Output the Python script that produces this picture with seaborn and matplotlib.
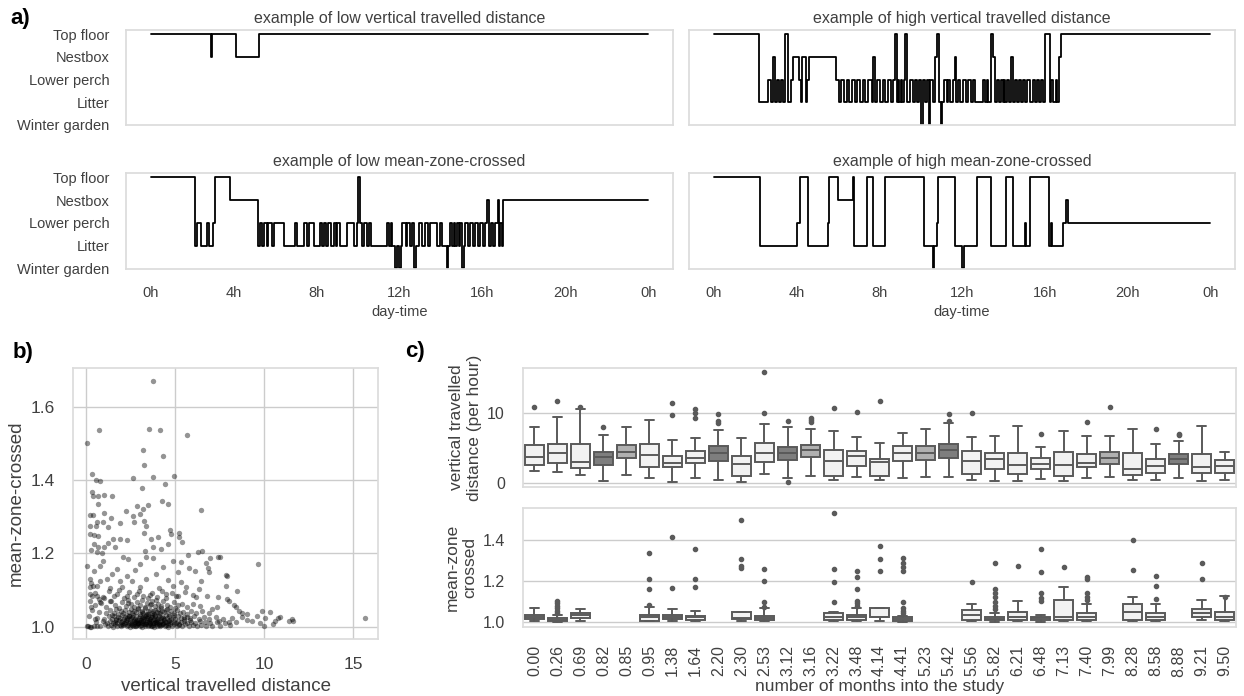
import numpy as np
import pandas as pd
import seaborn as sns
import matplotlib.pyplot as plt

sns.set_theme(style="whitegrid")
plt.rcParams['font.family'] = ['Liberation Sans', 'DejaVu Sans']
plt.rcParams['text.color'] = '#404040'
plt.rcParams['axes.labelcolor'] = '#404040'
plt.rcParams['xtick.color'] = '#404040'
plt.rcParams['ytick.color'] = '#404040'

# ---------------- data ----------------
zones = ["Winter garden", "Litter", "Lower perch", "Nestbox", "Top floor"]
hour_ticks = [0, 4, 8, 12, 16, 20, 24]
hour_labels = ["0h", "4h", "8h", "12h", "16h", "20h", "0h"]

# zone changes (hour, zone index) for the four example hens
lo_vtd = [(0.00, 4), (2.89, 3), (2.93, 4), (4.10, 3), (5.22, 4)]

hi_vtd = [(0.00, 4), (2.19, 1), (2.63, 2), (2.74, 1), (2.87, 3), (2.94, 1), (3.06, 2), (3.16, 1),
          (3.24, 2), (3.32, 1), (3.44, 4), (3.60, 1), (3.71, 2), (3.81, 3), (4.13, 2), (4.19, 1),
          (4.26, 3), (4.45, 1), (4.52, 2), (4.58, 3), (5.90, 2), (6.03, 1), (6.16, 2), (6.29, 1),
          (6.42, 2), (6.55, 1), (6.68, 2), (6.81, 1), (6.94, 2), (7.06, 1), (7.19, 2), (7.32, 1),
          (7.47, 2), (7.63, 1), (7.71, 3), (7.77, 1), (7.87, 2), (8.03, 1), (8.16, 2), (8.29, 1),
          (8.44, 2), (8.55, 1), (8.68, 2), (8.76, 4), (8.87, 1), (8.92, 2), (8.97, 1), (9.03, 2),
          (9.10, 1), (9.19, 2), (9.26, 4), (9.35, 1), (9.48, 2), (9.65, 1), (9.73, 2), (9.84, 1),
          (9.94, 2), (10.03, 0), (10.10, 2), (10.21, 1), (10.29, 2), (10.39, 0), (10.45, 2),
          (10.58, 1), (10.71, 3), (10.77, 4), (10.87, 1), (10.97, 0), (11.03, 1), (11.13, 2),
          (11.26, 1), (11.34, 2), (11.42, 1), (11.55, 2), (11.65, 3), (11.71, 1), (11.82, 2),
          (11.90, 1), (12.06, 2), (12.19, 1), (12.31, 2), (12.42, 1), (12.52, 2), (12.65, 1),
          (13.03, 2), (13.11, 1), (13.19, 2), (13.27, 1), (13.39, 4), (13.52, 3), (13.58, 1),
          (13.68, 2), (13.81, 1), (13.90, 2), (13.97, 1), (14.03, 2), (14.10, 1), (14.19, 2),
          (14.29, 1), (14.39, 3), (14.45, 1), (14.55, 2), (14.65, 1), (14.74, 2), (14.84, 1),
          (14.94, 2), (15.05, 1), (15.16, 2), (15.29, 1), (15.42, 2), (15.52, 1), (15.61, 2),
          (15.71, 1), (15.81, 2), (15.90, 1), (16.03, 4), (16.23, 1), (16.32, 2), (16.42, 1),
          (16.52, 2), (16.61, 1), (16.71, 3), (16.80, 4)]

lo_mzc = [(0.00, 4), (2.14, 1), (2.25, 2), (2.41, 1), (2.70, 2), (2.81, 1), (3.02, 2), (3.08, 4),
          (3.82, 3), (5.17, 1), (5.27, 2), (5.38, 1), (5.46, 2), (5.59, 1), (5.65, 2), (5.86, 1),
          (5.94, 2), (6.43, 1), (6.94, 2), (7.07, 1), (7.39, 2), (7.52, 1), (7.63, 2), (7.87, 1),
          (8.16, 2), (8.27, 1), (8.35, 2), (8.45, 1), (8.55, 2), (8.67, 1), (8.84, 2), (8.92, 1),
          (9.00, 2), (9.12, 1), (9.48, 2), (9.80, 1), (9.93, 2), (9.99, 4), (10.09, 2), (10.20, 1),
          (10.31, 2), (10.41, 1), (10.51, 2), (10.60, 1), (11.41, 2), (11.49, 1), (11.57, 2),
          (11.65, 1), (11.76, 0), (11.86, 1), (11.97, 0), (12.05, 1), (12.13, 2), (12.29, 1),
          (12.37, 2), (12.50, 1), (12.61, 2), (12.72, 0), (12.79, 1), (12.93, 2), (13.09, 1),
          (13.25, 2), (13.37, 1), (13.49, 2), (13.82, 1), (13.94, 2), (14.06, 1), (14.27, 0),
          (14.36, 1), (14.43, 2), (14.54, 1), (14.62, 2), (14.70, 1), (14.78, 2), (14.86, 1),
          (14.94, 2), (15.02, 0), (15.10, 1), (15.18, 2), (15.29, 1), (15.42, 2), (15.55, 1),
          (15.66, 2), (15.78, 1), (15.90, 2), (16.03, 1), (16.14, 2), (16.22, 3), (16.31, 1),
          (16.42, 2), (16.51, 1), (16.63, 2), (16.74, 3), (16.80, 1), (16.87, 2), (16.93, 1),
          (17.00, 3)]

hi_mzc = [(0.00, 4), (2.23, 1), (4.03, 2), (4.16, 4), (4.56, 1), (5.50, 2), (5.55, 4), (6.02, 3),
          (6.71, 4), (6.76, 1), (7.39, 4), (7.71, 1), (8.27, 4), (10.16, 1), (10.61, 0), (10.66, 1),
          (10.81, 2), (10.84, 4), (11.66, 1), (12.02, 0), (12.08, 1), (12.74, 4), (13.40, 1),
          (14.11, 4), (14.48, 1), (15.05, 2), (15.10, 1), (15.29, 4), (16.19, 1), (16.31, 2),
          (16.37, 1), (16.87, 2), (17.03, 3), (17.10, 2)]

# panel b: (vertical travelled distance, mean-zone-crossed) per hen-day
sparse_points = [
    (3.75, 1.671), (0.04, 1.500), (0.72, 1.536), (3.51, 1.539), (4.13, 1.535), (5.65, 1.523),
    (3.20, 1.482), (4.32, 1.466), (3.25, 1.441), (0.32, 1.416), (0.56, 1.400), (0.78, 1.396),
    (2.64, 1.405), (3.75, 1.407), (4.93, 1.410), (4.41, 1.389), (0.32, 1.368), (0.41, 1.357),
    (0.65, 1.357), (1.00, 1.359), (1.45, 1.355), (3.16, 1.377), (4.26, 1.344), (4.61, 1.335),
    (0.69, 1.335), (2.83, 1.330), (3.48, 1.333), (2.23, 1.315), (3.20, 1.321), (6.45, 1.319),
    (0.19, 1.305), (0.37, 1.305), (1.00, 1.309), (2.64, 1.303), (3.05, 1.307), (1.38, 1.295),
    (0.59, 1.285), (0.97, 1.285), (1.90, 1.282), (2.68, 1.285), (3.23, 1.287), (3.38, 1.275),
    (0.22, 1.275), (0.54, 1.275), (1.25, 1.271), (4.72, 1.264), (3.23, 1.255), (0.22, 1.253),
    (0.45, 1.250), (0.65, 1.248), (1.52, 1.239), (1.90, 1.239), (2.27, 1.235), (3.66, 1.239),
    (4.03, 1.245), (4.78, 1.253), (5.19, 1.255), (5.24, 1.244), (5.39, 1.232), (4.59, 1.225),
    (1.21, 1.228), (0.46, 1.225), (0.69, 1.216), (1.00, 1.216), (1.62, 1.216), (3.75, 1.216),
    (4.22, 1.212), (3.29, 1.207), (0.26, 1.209), (0.59, 1.203), (0.91, 1.201), (6.30, 1.203),
    (6.49, 1.205), (2.08, 1.189), (2.36, 1.185), (3.75, 1.187), (3.34, 1.189), (5.71, 1.195),
    (6.95, 1.186), (7.42, 1.189), (7.51, 1.189), (9.65, 1.171), (4.87, 1.180), (5.33, 1.175),
    (6.73, 1.173), (0.07, 1.166), (0.78, 1.166), (1.71, 1.157), (2.73, 1.155), (4.31, 1.162),
    (5.76, 1.160), (6.86, 1.160), (0.46, 1.151), (0.97, 1.180), (3.01, 1.171), (1.43, 1.144),
    (2.27, 1.139), (3.94, 1.144), (5.15, 1.148), (6.13, 1.151), (6.91, 1.148), (7.84, 1.141),
    (7.94, 1.139), (0.22, 1.130), (0.78, 1.125), (1.15, 1.130), (1.90, 1.124), (2.55, 1.125),
    (3.38, 1.130), (4.59, 1.127), (5.33, 1.121), (6.45, 1.125), (0.22, 1.107), (0.59, 1.112),
    (1.34, 1.105), (1.99, 1.109), (3.01, 1.107), (4.09, 1.105), (4.87, 1.112), (5.61, 1.107),
    (6.36, 1.103), (7.84, 1.112), (8.49, 1.096), (0.19, 1.089), (0.59, 1.085), (0.97, 1.082),
    (1.71, 1.089), (2.27, 1.085), (2.83, 1.089), (3.57, 1.086), (4.50, 1.089), (5.15, 1.085),
    (5.99, 1.087), (6.82, 1.085), (7.43, 1.080), (7.94, 1.075), (0.22, 1.071), (0.28, 1.055),
    (0.78, 1.066), (1.34, 1.069), (8.03, 1.071), (8.31, 1.060), (8.44, 1.055), (7.38, 1.053),
    (7.10, 1.048), (9.05, 1.035), (9.61, 1.030), (9.89, 1.044), (10.35, 1.039), (10.07, 1.024),
    (9.80, 1.009), (9.98, 1.003), (10.63, 1.016), (10.48, 1.007), (10.78, 1.024), (10.91, 1.027),
    (11.38, 1.016), (11.56, 1.021), (11.65, 1.016), (15.65, 1.025), (8.74, 1.027), (8.77, 1.036),
    (8.59, 1.044), (8.22, 1.024), (8.03, 1.012), (7.47, 1.016), (9.05, 1.018), (9.33, 1.016),
    (0.07, 1.003), (0.19, 1.000), (0.26, 1.000), (0.10, 1.002), (0.15, 1.030), (0.30, 1.085),
    (0.35, 1.045), (0.40, 1.110), (0.25, 1.120), (0.50, 1.020), (0.62, 1.003), (0.70, 1.075)]

dense_points = [
    (0.42, 1.003), (0.78, 1.001), (1.05, 1.006), (1.21, 1.002), (1.38, 1.004), (1.52, 1.000),
    (1.63, 1.007), (1.74, 1.002), (1.88, 1.005), (1.97, 1.001), (2.08, 1.004), (2.19, 1.008),
    (2.27, 1.002), (2.36, 1.005), (2.44, 1.000), (2.53, 1.006), (2.61, 1.003), (2.70, 1.007),
    (2.78, 1.001), (2.86, 1.004), (2.93, 1.008), (3.01, 1.002), (3.09, 1.005), (3.16, 1.000),
    (3.24, 1.006), (3.31, 1.003), (3.39, 1.007), (3.46, 1.001), (3.54, 1.004), (3.61, 1.008),
    (3.69, 1.002), (3.76, 1.005), (3.84, 1.000), (3.91, 1.006), (3.99, 1.003), (4.07, 1.007),
    (4.15, 1.001), (4.23, 1.004), (4.32, 1.008), (4.41, 1.002), (4.50, 1.005), (4.60, 1.000),
    (4.71, 1.006), (4.83, 1.003), (4.96, 1.007), (5.09, 1.001), (5.24, 1.004), (5.41, 1.002),
    (5.58, 1.006), (5.77, 1.001), (5.98, 1.004), (6.21, 1.002), (6.47, 1.005), (6.75, 1.001),
    (7.10, 1.003), (7.52, 1.002), (8.10, 1.004),
    (0.55, 1.012), (0.93, 1.015), (1.18, 1.010), (1.34, 1.016), (1.49, 1.011), (1.61, 1.014),
    (1.72, 1.009), (1.83, 1.017), (1.94, 1.012), (2.04, 1.015), (2.13, 1.010), (2.22, 1.013),
    (2.31, 1.017), (2.40, 1.011), (2.49, 1.014), (2.57, 1.009), (2.66, 1.016), (2.74, 1.012),
    (2.82, 1.015), (2.90, 1.010), (2.98, 1.018), (3.06, 1.013), (3.14, 1.011), (3.22, 1.016),
    (3.29, 1.009), (3.37, 1.014), (3.44, 1.017), (3.52, 1.012), (3.59, 1.010), (3.67, 1.015),
    (3.74, 1.018), (3.82, 1.011), (3.89, 1.014), (3.97, 1.009), (4.05, 1.016), (4.13, 1.012),
    (4.21, 1.015), (4.30, 1.010), (4.39, 1.017), (4.48, 1.013), (4.58, 1.011), (4.68, 1.016),
    (4.79, 1.012), (4.91, 1.014), (5.04, 1.010), (5.18, 1.015), (5.33, 1.012), (5.50, 1.016),
    (5.69, 1.011), (5.90, 1.014), (6.12, 1.010), (6.38, 1.015), (6.66, 1.012), (6.98, 1.009),
    (7.35, 1.013), (7.80, 1.011), (8.45, 1.014),
    (0.62, 1.025), (1.02, 1.021), (1.27, 1.028), (1.45, 1.022), (1.59, 1.030), (1.70, 1.019),
    (1.81, 1.026), (1.92, 1.023), (2.02, 1.031), (2.11, 1.020), (2.20, 1.027), (2.29, 1.024),
    (2.38, 1.029), (2.47, 1.021), (2.55, 1.026), (2.64, 1.032), (2.72, 1.022), (2.80, 1.028),
    (2.88, 1.019), (2.96, 1.025), (3.04, 1.030), (3.12, 1.023), (3.20, 1.027), (3.27, 1.020),
    (3.35, 1.031), (3.42, 1.024), (3.50, 1.028), (3.57, 1.021), (3.65, 1.026), (3.72, 1.032),
    (3.80, 1.022), (3.87, 1.029), (3.95, 1.019), (4.03, 1.025), (4.11, 1.030), (4.19, 1.023),
    (4.28, 1.027), (4.37, 1.021), (4.46, 1.031), (4.56, 1.024), (4.66, 1.028), (4.77, 1.020),
    (4.89, 1.026), (5.02, 1.022), (5.16, 1.029), (5.31, 1.024), (5.48, 1.020), (5.66, 1.027),
    (5.86, 1.023), (6.08, 1.028), (6.33, 1.021), (6.60, 1.026), (6.92, 1.022), (7.28, 1.027),
    (7.70, 1.020),
    (0.70, 1.040), (1.10, 1.036), (1.36, 1.045), (1.55, 1.038), (1.68, 1.048), (1.80, 1.034),
    (1.93, 1.042), (2.05, 1.037), (2.17, 1.046), (2.28, 1.033), (2.39, 1.041), (2.50, 1.049),
    (2.60, 1.036), (2.71, 1.044), (2.81, 1.039), (2.91, 1.047), (3.01, 1.035), (3.11, 1.043),
    (3.21, 1.038), (3.30, 1.050), (3.40, 1.034), (3.49, 1.042), (3.58, 1.046), (3.68, 1.037),
    (3.77, 1.044), (3.86, 1.033), (3.96, 1.041), (4.06, 1.048), (4.16, 1.036), (4.27, 1.043),
    (4.38, 1.039), (4.50, 1.046), (4.63, 1.035), (4.77, 1.042), (4.92, 1.038), (5.08, 1.045),
    (5.26, 1.036), (5.46, 1.041), (5.68, 1.034), (5.92, 1.043), (6.20, 1.037), (6.52, 1.044),
    (6.90, 1.036),
    (0.48, 1.058), (0.85, 1.064), (1.14, 1.055), (1.40, 1.070), (1.62, 1.060), (1.84, 1.052),
    (2.03, 1.066), (2.21, 1.057), (2.37, 1.072), (2.54, 1.061), (2.69, 1.054), (2.85, 1.068),
    (3.00, 1.059), (3.15, 1.074), (3.28, 1.053), (3.43, 1.065), (3.58, 1.058), (3.72, 1.071),
    (3.88, 1.056), (4.02, 1.063), (4.18, 1.052), (4.34, 1.069), (4.52, 1.060), (4.71, 1.055),
    (4.92, 1.066), (5.15, 1.058), (5.40, 1.063), (5.68, 1.054), (6.00, 1.061), (6.40, 1.057),
    (0.52, 1.092), (0.98, 1.078), (1.28, 1.096), (1.57, 1.083), (1.86, 1.099), (2.12, 1.079),
    (2.42, 1.094), (2.66, 1.081), (2.95, 1.097), (3.18, 1.085), (3.46, 1.077), (3.70, 1.093),
    (3.98, 1.082), (4.24, 1.098), (4.48, 1.079), (4.80, 1.091), (5.05, 1.084), (5.55, 1.095),
    (6.15, 1.080),
    (2.58, 1.004), (2.83, 1.011), (3.07, 1.019), (3.33, 1.007), (3.55, 1.015), (3.78, 1.010),
    (4.00, 1.021), (4.25, 1.006), (3.93, 1.013), (3.62, 1.003), (3.26, 1.023), (2.97, 1.009),
    (2.68, 1.017), (4.44, 1.014), (4.62, 1.004), (3.70, 1.027), (3.48, 1.035), (4.10, 1.038),
    (2.43, 1.029), (3.85, 1.046), (3.12, 1.040),
    (1.66, 1.021), (1.99, 1.008), (2.25, 1.018), (2.51, 1.024), (2.76, 1.003), (3.03, 1.014),
    (3.28, 1.029), (3.53, 1.020), (3.81, 1.034), (4.08, 1.004), (4.34, 1.025), (4.64, 1.019),
    (4.94, 1.031), (5.21, 1.008), (5.52, 1.027), (5.83, 1.017), (1.44, 1.033), (2.89, 1.052),
    (3.63, 1.061), (4.21, 1.057), (2.33, 1.064), (3.92, 1.073), (4.56, 1.047), (5.01, 1.051)]

# panel c: months into the study
months = ["0.00", "0.26", "0.69", "0.82", "0.85", "0.95", "1.38", "1.64", "2.20", "2.30", "2.53",
          "3.12", "3.16", "3.22", "3.48", "4.14", "4.41", "5.23", "5.42", "5.56", "5.82", "6.21",
          "6.48", "7.13", "7.40", "7.99", "8.28", "8.58", "8.88", "9.21", "9.50"]
shade = ["l", "l", "l", "d", "m", "l", "l", "l", "d", "l", "l", "d", "m", "l", "l", "l", "l",
         "m", "d", "l", "l", "l", "l", "l", "l", "m", "l", "l", "d", "l", "l"]

# vertical travelled distance: whisker low, q1, median, q3, whisker high, outliers
vtd_lo = [1.7, 1.5, 1.14, 0.29, 1.1, 0.76, 0.19, 0.76, 0.43, 0.19, 1.29, 0.67, 1.0, 0.43, 0.9,
          0.43, 0.67, 0.86, 0.9, 0.43, 0.33, 0.33, 0.52, 0.33, 0.76, 0.86, 0.43, 0.43, 0.71, 0.33, 0.43]
vtd_q1 = [2.5, 2.8, 2.1, 2.57, 3.52, 2.33, 2.24, 2.81, 3.14, 1.05, 3.0, 3.29, 3.67, 1.0, 2.43,
          1.0, 3.14, 3.29, 3.52, 1.29, 2.0, 1.29, 1.95, 1.0, 2.24, 2.71, 1.1, 1.48, 2.67, 1.38, 1.48]
vtd_med = [3.76, 4.33, 3.05, 3.67, 4.48, 3.95, 2.81, 3.62, 4.33, 2.71, 4.24, 4.33, 4.71, 3.14, 3.86,
           3.0, 4.24, 4.33, 4.71, 3.19, 3.38, 2.57, 2.71, 2.57, 2.81, 3.52, 1.95, 2.48, 3.38, 2.33, 2.43]
vtd_q3 = [5.4, 5.57, 5.57, 4.43, 5.4, 5.52, 3.9, 4.62, 5.29, 3.9, 5.76, 5.19, 5.4, 4.71, 4.62,
          3.48, 5.29, 5.29, 5.57, 4.62, 4.24, 4.24, 3.57, 4.43, 4.1, 4.43, 4.33, 3.38, 4.14, 4.14, 3.29]
vtd_hi = [7.95, 9.4, 10.57, 6.8, 7.95, 9.0, 6.14, 6.38, 7.57, 6.38, 8.38, 7.95, 7.67, 7.43, 6.62,
          5.67, 7.19, 7.71, 8.52, 6.62, 6.71, 8.19, 5.19, 7.48, 6.71, 6.76, 7.67, 5.57, 6.05, 8.14, 4.48]
vtd_out = [[10.8], [11.7], [10.9], [7.95], [], [], [9.7, 11.38], [9.24, 9.95, 10.57],
           [8.52, 8.9, 9.81], [], [10.05, 15.76], [0.2, 8.9], [8.7, 9.0, 9.3], [10.67], [10.19],
           [11.71], [], [], [8.9, 9.81], [10.05], [], [], [6.95], [], [8.76], [10.9], [], [7.71],
           [6.9, 7.0], [], []]

# mean-zone-crossed (None = no data that month)
mzc_lo = [1.005, 1.0, 1.005, None, None, 1.005, 1.005, 1.005, None, 1.005, 1.005, None, None,
          1.005, 1.005, 1.006, 1.0, None, None, 1.005, 1.0, 1.005, 1.0, 1.005, 1.005, None,
          1.005, 1.005, None, 1.01, 1.005]
mzc_q1 = [1.015, 1.005, 1.021, None, None, 1.006, 1.015, 1.01, None, 1.015, 1.012, None, None,
          1.01, 1.01, 1.023, 1.006, None, None, 1.01, 1.01, 1.01, 1.01, 1.01, 1.01, None,
          1.01, 1.01, None, 1.023, 1.01]
mzc_med = [1.026, 1.01, 1.034, None, None, 1.023, 1.026, 1.023, None, 1.022, 1.021, None, None,
           1.026, 1.026, 1.025, 1.013, None, None, 1.034, 1.017, 1.026, 1.021, 1.026, 1.023, None,
           1.05, 1.026, None, 1.042, 1.026]
mzc_q3 = [1.037, 1.02, 1.045, None, None, 1.037, 1.037, 1.029, None, 1.047, 1.031, None, None,
          1.045, 1.034, 1.067, 1.026, None, None, 1.059, 1.026, 1.05, 1.026, 1.107, 1.042, None,
          1.088, 1.045, None, 1.062, 1.05]
mzc_hi = [1.067, 1.034, 1.062, None, None, 1.075, 1.062, 1.054, None, 1.047, 1.067, None, None,
          1.048, 1.07, 1.067, 1.03, None, None, 1.086, 1.045, 1.104, 1.037, 1.169, 1.088, None,
          1.123, 1.088, None, 1.107, 1.127]
mzc_out = [[], [1.045, 1.055, 1.067, 1.078, 1.091, 1.104], [], [], [], [1.083, 1.161, 1.21, 1.338],
           [1.167, 1.416], [1.172, 1.21, 1.356], [], [1.265, 1.273, 1.306, 1.498],
           [1.072, 1.096, 1.202, 1.259], [], [], [1.096, 1.194, 1.257, 1.533],
           [1.078, 1.091, 1.104, 1.159, 1.221, 1.25], [1.25, 1.307, 1.371],
           [1.045, 1.055, 1.067, 1.098, 1.25, 1.267, 1.289, 1.311], [], [], [1.194],
           [1.062, 1.078, 1.1, 1.12, 1.143, 1.159, 1.286], [1.273],
           [1.104, 1.119, 1.14, 1.245, 1.355], [1.27], [1.11, 1.12, 1.143, 1.208, 1.221], [],
           [1.254, 1.4], [1.115, 1.176, 1.224], [], [1.208, 1.286], [1.12]]

fills = {"l": "#f2f2f2", "m": "#b0b0b0", "d": "#7e7e7e"}
edge = "#5a5a5a"
spine_col = "#dcdcdc"

# ---------------- figure ----------------
fig = plt.figure(figsize=(12.44, 6.96), dpi=100)


def track(ax, changes, title, left, bottom):
    t = [c[0] for c in changes] + [24.0]
    z = [c[1] for c in changes] + [changes[-1][1]]
    df = pd.DataFrame({"hour": t, "zone": z})
    sns.lineplot(data=df, x="hour", y="zone", drawstyle="steps-post", color="black",
                 linewidth=1.3, estimator=None, sort=False, ax=ax)
    ax.grid(False)
    ax.set_xlim(-1.2, 25.2)
    ax.set_ylim(-0.03, 4.2)
    ax.set_yticks(range(5))
    ax.set_xticks(hour_ticks)
    ax.set_title(title, fontsize=11.5, color="#404040", pad=5)
    ax.set_ylabel("")
    if left:
        ax.set_yticklabels(zones, fontsize=10.5)
    else:
        ax.set_yticklabels([])
    if bottom:
        ax.set_xticklabels(hour_labels, fontsize=10.5)
        ax.set_xlabel("day-time", fontsize=10.5)
    else:
        ax.set_xticklabels([])
        ax.set_xlabel("")
    ax.tick_params(pad=6)
    for s in ax.spines.values():
        s.set_color(spine_col)


ax1 = fig.add_axes([0.1013, 0.820, 0.4397, 0.137])
track(ax1, lo_vtd, "example of low vertical travelled distance", True, False)
ax2 = fig.add_axes([0.5539, 0.820, 0.4389, 0.137])
track(ax2, hi_vtd, "example of high vertical travelled distance", False, False)
ax3 = fig.add_axes([0.1013, 0.6135, 0.4397, 0.138])
track(ax3, lo_mzc, "example of low mean-zone-crossed", True, True)
ax4 = fig.add_axes([0.5539, 0.6135, 0.4389, 0.138])
track(ax4, hi_mzc, "example of high mean-zone-crossed", False, True)

# panel b
pts = pd.DataFrame(sparse_points + dense_points, columns=["vtd", "mzc"])
axb = fig.add_axes([0.0587, 0.0819, 0.2455, 0.389])
sns.scatterplot(data=pts, x="vtd", y="mzc", color="black", alpha=0.42, s=15, linewidth=0, ax=axb)
axb.set_xticks([0, 5, 10, 15])
axb.set_yticks([1.0, 1.2, 1.4, 1.6])
axb.set_xlabel("vertical travelled distance", fontsize=13.5)
axb.set_ylabel("mean-zone-crossed", fontsize=13.5)
axb.tick_params(labelsize=12.5, pad=7)
for s in axb.spines.values():
    s.set_color(spine_col)


def boxes(ax, lo, q1, med, q3, hi, out, shaded):
    stats, pos, cols = [], [], []
    for i in range(len(months)):
        if lo[i] is None:
            continue
        stats.append(dict(whislo=lo[i], q1=q1[i], med=med[i], q3=q3[i], whishi=hi[i], fliers=out[i]))
        pos.append(i)
        cols.append(fills[shade[i]] if shaded else fills["l"])
    bp = ax.bxp(stats, positions=pos, widths=0.8, capwidths=0.4, patch_artist=True,
                boxprops=dict(edgecolor=edge, linewidth=1.4),
                medianprops=dict(color=edge, linewidth=1.4),
                whiskerprops=dict(color=edge, linewidth=1.4),
                capprops=dict(color=edge, linewidth=1.4),
                flierprops=dict(marker="o", markersize=3, markerfacecolor=edge,
                                markeredgecolor=edge))
    for patch, c in zip(bp["boxes"], cols):
        patch.set_facecolor(c)
    ax.set_xlim(-0.5, len(months) - 0.5)
    ax.set_xticks(range(len(months)))
    ax.grid(axis="x", visible=False)
    for s in ax.spines.values():
        s.set_color(spine_col)
    ax.tick_params(labelsize=11.5, pad=7)


axc1 = fig.add_axes([0.4204, 0.3003, 0.5732, 0.171])
boxes(axc1, vtd_lo, vtd_q1, vtd_med, vtd_q3, vtd_hi, vtd_out, True)
axc1.set_ylim(-0.57, 16.4)
axc1.set_yticks([0, 10])
axc1.set_xticklabels([])
axc1.set_ylabel("vertical travelled\ndistance (per hour)", fontsize=12.5)

axc2 = fig.add_axes([0.4204, 0.0991, 0.5732, 0.171])
boxes(axc2, mzc_lo, mzc_q1, mzc_med, mzc_q3, mzc_hi, mzc_out, False)
axc2.set_ylim(0.976, 1.556)
axc2.set_yticks([1.0, 1.2, 1.4])
axc2.set_xticklabels(months, rotation=90)
axc2.set_ylabel("mean-zone\ncrossed", fontsize=12.5)
axc2.set_xlabel("number of months into the study", fontsize=12.5, labelpad=2)
fig.align_ylabels([axc1, axc2])

# panel letters
fig.text(0.008, 0.965, "a)", fontsize=16, fontweight="bold", color="black")
fig.text(0.010, 0.485, "b)", fontsize=16, fontweight="bold", color="black")
fig.text(0.326, 0.487, "c)", fontsize=16, fontweight="bold", color="black")

fig.savefig("out.png", dpi=100)
